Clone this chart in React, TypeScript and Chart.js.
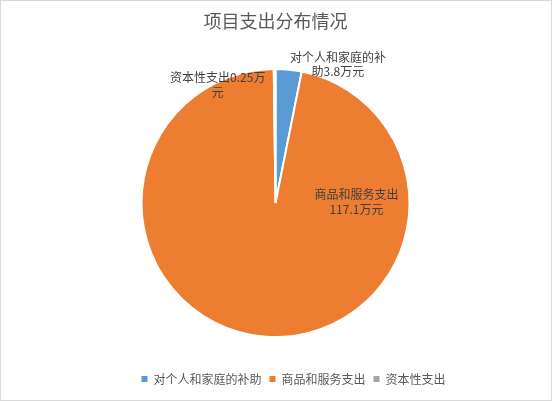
import React, { useEffect, useRef } from 'react';
import { Chart, registerables } from 'chart.js';

Chart.register(...registerables);

const chartTitle = '项目支出分布情况';
const categories = ['对个人和家庭的补助', '商品和服务支出', '资本性支出'];
const values = [3.8, 117.1, 0.25];
const unit = '万元';
const colors = ['#5B9BD5', '#ED7D31', '#A5A5A5'];
// data-label placement relative to the pie centre, in units of the pie radius
const labelOffsetX = [0.466, 0.604, -0.431];
const labelOffsetY = [-1.034, -0.007, -0.881];
const labelWrapWidth = [100, 88, 100];

const FONT = "'Noto Sans CJK SC', 'Noto Sans', sans-serif";

function wrapText(ctx: CanvasRenderingContext2D, text: string, maxW: number): string[] {
  const lines: string[] = [];
  let cur = '';
  for (const ch of Array.from(text)) {
    const test = cur + ch;
    if (cur && ctx.measureText(test).width > maxW) {
      lines.push(cur);
      cur = ch;
    } else {
      cur = test;
    }
  }
  if (cur) lines.push(cur);
  return lines;
}

const sliceLabels = {
  id: 'sliceLabels',
  afterDatasetsDraw(chart: any) {
    const meta = chart.getDatasetMeta(0);
    const ctx: CanvasRenderingContext2D = chart.ctx;
    ctx.save();
    ctx.font = `12px ${FONT}`;
    ctx.fillStyle = '#404040';
    ctx.textAlign = 'center';
    ctx.textBaseline = 'middle';
    meta.data.forEach((arc: any, i: number) => {
      const { x, y, outerRadius } = arc.getProps(['x', 'y', 'outerRadius'], true);
      const text = categories[i] + String(values[i]) + unit;
      const lines = wrapText(ctx, text, labelWrapWidth[i]);
      const cx = x + labelOffsetX[i] * outerRadius;
      const cy = y + labelOffsetY[i] * outerRadius;
      const lh = 14.5;
      const y0 = cy - ((lines.length - 1) * lh) / 2;
      lines.forEach((l, j) => ctx.fillText(l, cx, y0 + j * lh));
    });
    ctx.restore();
  },
};

const legendShift = {
  id: 'legendShift',
  afterLayout(chart: any) {
    const lg = chart.legend;
    if (lg) {
      lg.left += 18;
      lg.right += 18;
    }
  },
};

export default function App() {
  const ref = useRef<HTMLCanvasElement | null>(null);
  useEffect(() => {
    if (!ref.current) return;
    Chart.defaults.font.family = FONT;
    const chart = new Chart(ref.current, {
      type: 'pie',
      data: {
        labels: categories,
        datasets: [
          {
            data: values,
            backgroundColor: colors,
            borderColor: '#ffffff',
            borderWidth: 2,
          },
        ],
      },
      options: {
        responsive: false,
        animation: false,
        devicePixelRatio: 1,
        radius: 134,
        layout: { padding: { top: 0, left: 0, right: 1, bottom: 5 } },
        plugins: {
          title: {
            display: true,
            text: chartTitle,
            color: '#595959',
            font: { size: 18, weight: 'normal', family: FONT },
            padding: { top: 9, bottom: 9.4 },
          },
          legend: {
            display: true,
            position: 'bottom',
            labels: {
              boxWidth: 6,
              boxHeight: 6,
              padding: 8,
              color: '#595959',
              font: { size: 12, family: FONT },
              generateLabels(c: any) {
                const base = (Chart as any).overrides.doughnut.plugins.legend.labels.generateLabels(c);
                return base.map((it: any) => ({ ...it, lineWidth: 0, strokeStyle: 'rgba(0,0,0,0)' }));
              },
            },
          },
          tooltip: { enabled: false },
        },
      } as any,
      plugins: [sliceLabels, legendShift],
    });
    return () => chart.destroy();
  }, []);

  return (
    <div
      style={{
        position: 'absolute',
        left: 0,
        top: 0,
        width: 552,
        height: 401,
        boxSizing: 'border-box',
        border: '1px solid #d9d9d9',
        background: '#ffffff',
      }}
    >
      <canvas ref={ref} width={550} height={399} style={{ display: 'block' }} />
    </div>
  );
}
